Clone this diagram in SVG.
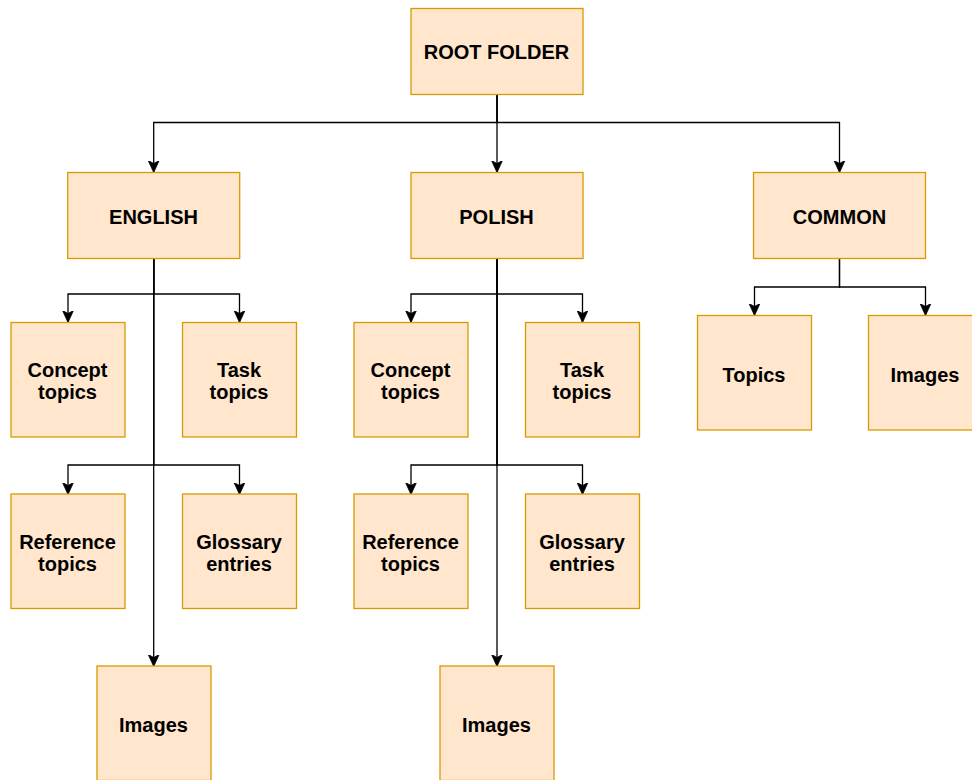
<svg xmlns="http://www.w3.org/2000/svg" width="972" height="780" viewBox="0 0 972 780">
<style>
.n rect{fill:#ffe6cc;stroke:#d79b00;stroke-width:1.3}
.n text{font-family:"Liberation Sans",Arial,sans-serif;font-weight:bold;font-size:20px;fill:#000;text-anchor:middle;dominant-baseline:central}
.e path{fill:none;stroke:#000;stroke-width:1.3;marker-end:url(#a)}
</style>
<defs>
<marker id="a" markerUnits="userSpaceOnUse" markerWidth="12" markerHeight="12" viewBox="0 0 12 12" refX="11.5" refY="6" orient="auto">
<path d="M0,0.5 L12,6 L0,11.5 L3,6 Z" fill="#000" stroke="#000" stroke-width="0.8"/>
</marker>
</defs>
<rect width="972" height="780" fill="#fff"/>
<g id="connectors" class="e">
<path d="M497 94 V122.5 H153.7 V172"/>
<path d="M497 94 V172"/>
<path d="M497 94 V122.5 H839.5 V172"/>
<path d="M153.7 258 V294 H68 V322"/>
<path d="M153.7 258 V294 H239.5 V322"/>
<path d="M153.7 258 V465 H68 V494"/>
<path d="M153.7 258 V465 H239.5 V494"/>
<path d="M153.7 258 V666"/>
<path d="M497 258 V294 H411 V322"/>
<path d="M497 258 V294 H582.5 V322"/>
<path d="M497 258 V465 H411 V494"/>
<path d="M497 258 V465 H582.5 V494"/>
<path d="M497 258 V666"/>
<path d="M839.5 258 V287 H754.5 V315"/>
<path d="M839.5 258 V287 H925.5 V315"/>
</g>
<g id="root" class="n"><rect x="411" y="8.5" width="172" height="86"/><text x="496.5" y="52">ROOT FOLDER</text></g>
<g id="english" class="n"><rect x="67.7" y="172.5" width="172" height="86"/><text x="153.5" y="216.5">ENGLISH</text></g>
<g id="polish" class="n"><rect x="411" y="172.5" width="172" height="86"/><text x="496.5" y="216.5">POLISH</text></g>
<g id="common" class="n"><rect x="753.5" y="172.5" width="172" height="86"/><text x="839.5" y="216.5">COMMON</text></g>
<g id="en-concept" class="n"><rect x="11" y="322.5" width="114" height="114.5"/><text x="67.5" y="369.5">Concept</text><text x="67.5" y="391.5">topics</text></g>
<g id="en-task" class="n"><rect x="182.5" y="322.5" width="114" height="114.5"/><text x="239" y="369.5">Task</text><text x="239" y="391.5">topics</text></g>
<g id="en-reference" class="n"><rect x="11" y="494" width="114" height="114.5"/><text x="67.5" y="541.5">Reference</text><text x="67.5" y="563.5">topics</text></g>
<g id="en-glossary" class="n"><rect x="182.5" y="494" width="114" height="114.5"/><text x="239" y="541.5">Glossary</text><text x="239" y="563.5">entries</text></g>
<g id="en-images" class="n"><rect x="97" y="666" width="114" height="114.5"/><text x="153.5" y="724.5">Images</text></g>
<g id="pl-concept" class="n"><rect x="354" y="322.5" width="114" height="114.5"/><text x="410.5" y="369.5">Concept</text><text x="410.5" y="391.5">topics</text></g>
<g id="pl-task" class="n"><rect x="525.5" y="322.5" width="114" height="114.5"/><text x="582" y="369.5">Task</text><text x="582" y="391.5">topics</text></g>
<g id="pl-reference" class="n"><rect x="354" y="494" width="114" height="114.5"/><text x="410.5" y="541.5">Reference</text><text x="410.5" y="563.5">topics</text></g>
<g id="pl-glossary" class="n"><rect x="525.5" y="494" width="114" height="114.5"/><text x="582" y="541.5">Glossary</text><text x="582" y="563.5">entries</text></g>
<g id="pl-images" class="n"><rect x="440" y="666" width="114" height="114.5"/><text x="496.5" y="724.5">Images</text></g>
<g id="co-topics" class="n"><rect x="697.5" y="315.5" width="114" height="114.5"/><text x="754" y="374.5">Topics</text></g>
<g id="co-images" class="n"><rect x="868.5" y="315.5" width="114" height="114.5"/><text x="925" y="374.5">Images</text></g>
</svg>
